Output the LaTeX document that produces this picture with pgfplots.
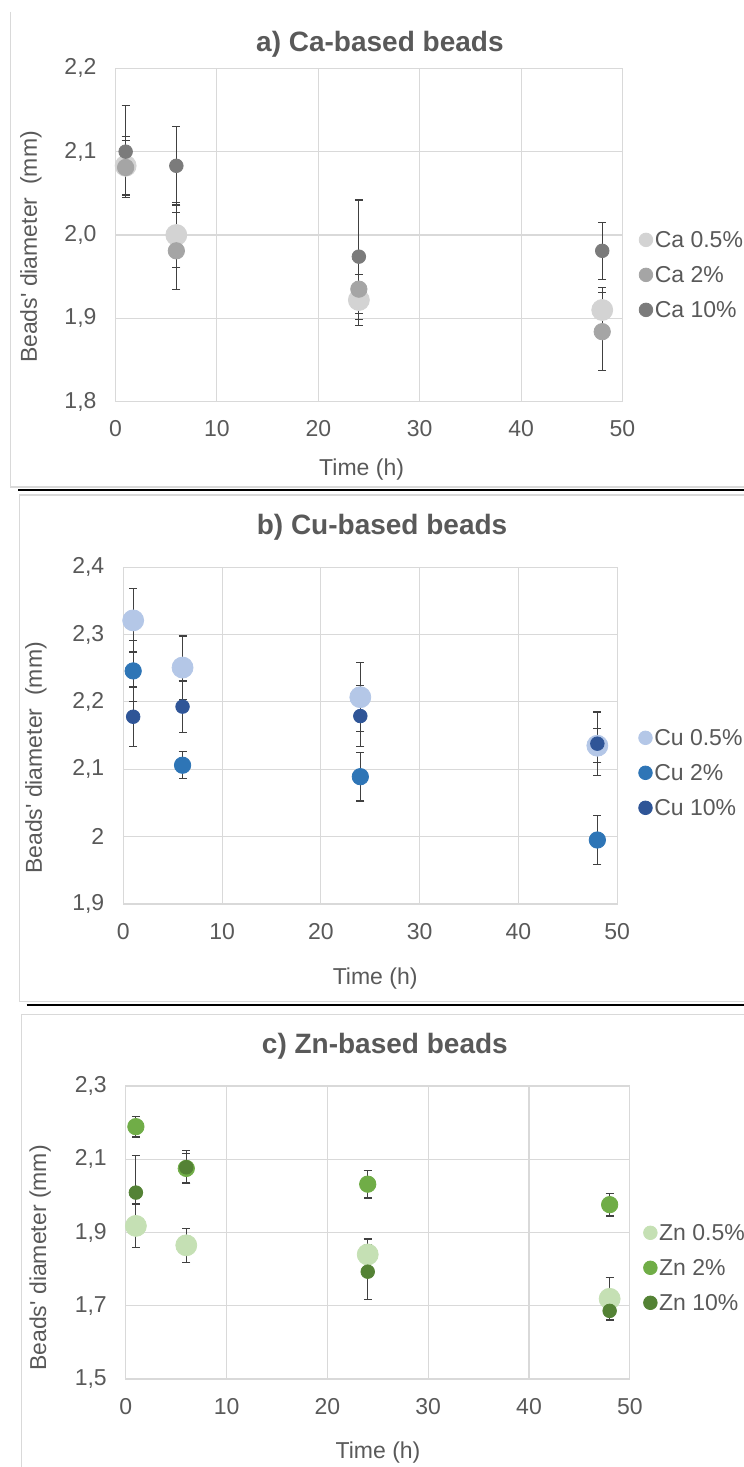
\documentclass[border=0pt]{standalone}
\usepackage{fontspec}
\setmainfont{Liberation Sans}
\usepackage{pgfplots}
\pgfplotsset{compat=1.18}

\definecolor{txt}{HTML}{595959}
\definecolor{grd}{HTML}{D9D9D9}
\definecolor{ebar}{HTML}{404040}
\definecolor{caA}{HTML}{D3D3D3}
\definecolor{caB}{HTML}{A5A5A5}
\definecolor{caC}{HTML}{7B7B7B}
\definecolor{cuA}{HTML}{B4C7E7}
\definecolor{cuB}{HTML}{2E75B6}
\definecolor{cuC}{HTML}{2F5597}
\definecolor{znA}{HTML}{C5E0B4}
\definecolor{znB}{HTML}{70AD47}
\definecolor{znC}{HTML}{548235}

\newcommand{\fs}{\fontsize{11.5bp}{13.8bp}\selectfont}

\pgfplotsset{
  beadax/.style={
    scale only axis, anchor=south west,
    xmin=0, xmax=50, xtick={0,10,...,50}, xticklabels={0,10,20,30,40,50},
    grid=major, major grid style={grd, line width=0.55bp},
    axis line style={grd, line width=0.55bp},
    major tick length=0pt,
    tick label style={font=\fs, text=txt},
    xticklabel style={yshift=-6bp},
    yticklabel style={xshift=-6bp},
    label style={font=\fs, text=txt, anchor=center},
    title style={font=\bfseries\fontsize{14bp}{16bp}\selectfont, text=txt, anchor=center},
    legend style={draw=none, fill=none, font=\fs, text=txt, anchor=north west,
      row sep=6bp, nodes={inner sep=1bp, text height=8.5bp, text depth=1bp}},
    legend cell align=left,
    legend image code/.code={\draw[#1, mark size=3.4bp] plot coordinates {(0bp,0bp)};},
    error bars/y dir=both, error bars/y explicit,
    error bars/error mark=-,
    error bars/error bar style={ebar, line width=0.6bp},
    error bars/error mark options={rotate=90, ebar, mark size=2bp, line width=0.6bp},
  },
  pA/.style={only marks, mark=*, mark size=5.25bp, color=#1},
  pB/.style={only marks, mark=*, mark size=4.1bp, color=#1},
  pC/.style={only marks, mark=*, mark size=3.4bp, color=#1},
}

\begin{document}
\begin{tikzpicture}
\useasboundingbox (0,0) rectangle (372bp,733.5bp);
% panel frames
\draw[grd, line width=0.6bp] (5.25bp,727.5bp) -- (5.25bp,490bp) -- (372bp,490bp);
\draw[black, line width=1bp] (9bp,488.5bp) -- (372bp,488.5bp);
\draw[grd, line width=0.6bp] (372bp,486bp) -- (9.75bp,486bp) -- (9.75bp,232.65bp) -- (372bp,232.65bp);
\draw[black, line width=1bp] (13.35bp,231bp) -- (372bp,231bp);
\draw[grd, line width=0.6bp] (372bp,226.35bp) -- (10.85bp,226.35bp) -- (10.85bp,0bp);

% a) Ca
\begin{axis}[beadax,
  at={(57.75bp,532.65bp)}, width=253.5bp, height=166.7bp,
  ymin=1.8, ymax=2.2, ytick={1.8,1.9,2.0,2.1,2.2},
  yticklabels={{1,8},{1,9},{2,0},{2,1},{2,2}},
  title={a) Ca-based beads},
  title style={at={(axis description cs:0.5215,1.0363)}},
  xlabel={Time (h)},
  xlabel style={at={(axis description cs:0.4854,-0.205)}},
  ylabel={Beads\textquotesingle\ diameter~ (mm)},
  ylabel style={at={(axis description cs:-0.1666,0.464)}},
  legend style={at={(axis description cs:1.0203,0.533)}},
]
\addplot[pA=caA] coordinates {(1,2.083) +- (0,0.035) (6,2.000) +- (0,0.039) (24,1.922) +- (0,0.031) (48,1.910) +- (0,0.027)};
\addplot[pB=caB] coordinates {(1,2.081) +- (0,0.032) (6,1.981) +- (0,0.046) (24,1.935) +- (0,0.036) (48,1.884) +- (0,0.047)};
\addplot[pC=caC] coordinates {(1,2.100) +- (0,0.055) (6,2.083) +- (0,0.047) (24,1.974) +- (0,0.068) (48,1.981) +- (0,0.034)};
\legend{Ca 0.5\%, Ca 2\%, Ca 10\%}
\end{axis}

% b) Cu
\begin{axis}[beadax,
  at={(61.65bp,281.5bp)}, width=246.9bp, height=168.4bp,
  ymin=1.9, ymax=2.4, ytick={1.9,2.0,2.1,2.2,2.3,2.4},
  yticklabels={{1,9},2,{2,1},{2,2},{2,3},{2,4}},
  title={b) Cu-based beads},
  title style={at={(axis description cs:0.524,1.084)}},
  xlabel={Time (h)},
  xlabel style={at={(axis description cs:0.51,-0.22)}},
  ylabel={Beads\textquotesingle\ diameter~ (mm)},
  ylabel style={at={(axis description cs:-0.1768,0.4336)}},
  legend style={at={(axis description cs:1.0308,0.5406)}},
]
\addplot[pA=cuA] coordinates {(1,2.321) +- (0,0.047) (6,2.251) +- (0,0.047) (24,2.207) +- (0,0.051) (48,2.135) +- (0,0.025)};
\addplot[pB=cuB] coordinates {(1,2.246) +- (0,0.045) (6,2.106) +- (0,0.020) (24,2.089) +- (0,0.036) (48,1.995) +- (0,0.036)};
\addplot[pC=cuC] coordinates {(1,2.178) +- (0,0.044) (6,2.193) +- (0,0.038) (24,2.179) +- (0,0.045) (48,2.138) +- (0,0.047)};
\legend{Cu 0.5\%, Cu 2\%, Cu 10\%}
\end{axis}

% c) Zn
\begin{axis}[beadax,
  at={(62.9bp,44bp)}, width=252bp, height=146.5bp,
  ymin=1.5, ymax=2.3, ytick={1.5,1.7,1.9,2.1,2.3},
  yticklabels={{1,5},{1,7},{1,9},{2,1},{2,3}},
  title={c) Zn-based beads},
  title style={at={(axis description cs:0.514,1.0956)}},
  xlabel={Time (h)},
  xlabel style={at={(axis description cs:0.5004,-0.2526)}},
  ylabel={Beads\textquotesingle\ diameter (mm)},
  ylabel style={at={(axis description cs:-0.170,0.413)}},
  legend style={at={(axis description cs:1.0147,0.5532)}},
]
\addplot[pA=znA] coordinates {(1,1.918) +- (0,0.060) (6,1.865) +- (0,0.046) (24,1.840) +- (0,0.042) (48,1.719) +- (0,0.058)};
\addplot[pB=znB] coordinates {(1,2.189) +- (0,0.028) (6,2.075) +- (0,0.040) (24,2.032) +- (0,0.038) (48,1.976) +- (0,0.031)};
\addplot[pC=znC] coordinates {(1,2.009) +- (0,0.101) (6,2.078) +- (0,0.045) (24,1.793) +- (0,0.075) (48,1.686) +- (0,0.025)};
\legend{Zn 0.5\%, Zn 2\%, Zn 10\%}
\end{axis}
\end{tikzpicture}
\end{document}
